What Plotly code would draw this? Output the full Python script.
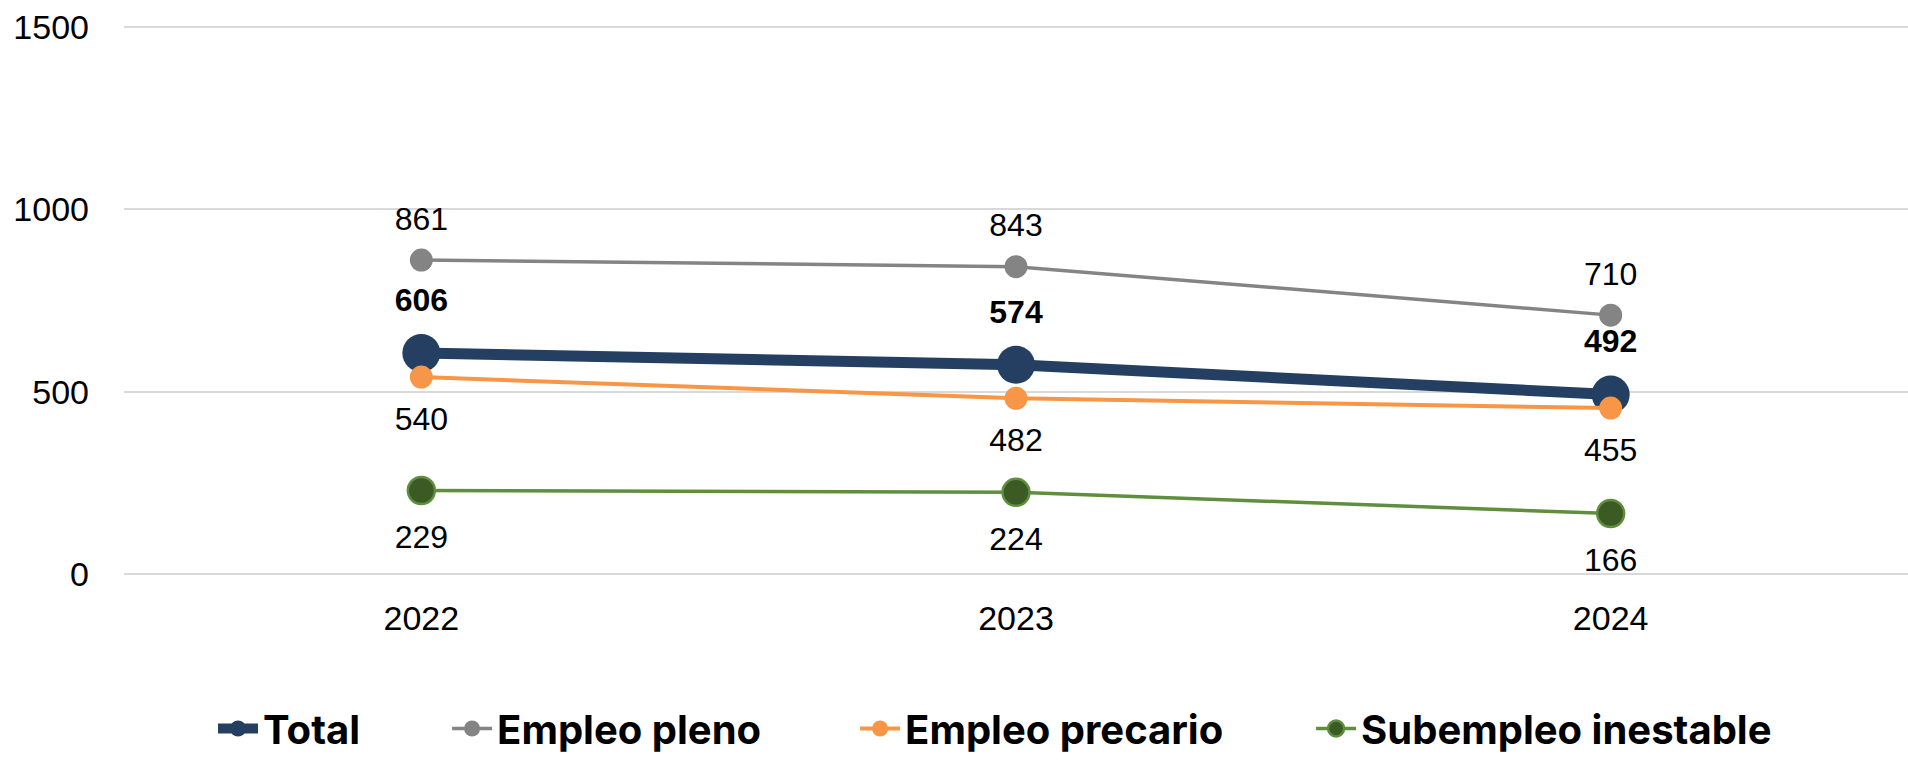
import plotly.graph_objects as go

years = ["2022", "2023", "2024"]
total = [606, 574, 492]
empleo_pleno = [861, 843, 710]
empleo_precario = [540, 482, 455]
subempleo = [229, 224, 166]

series = [
    dict(name="Total", y=total, color="#243F61", lw=11, ms=38, mfill="#243F61", mline="#243F61", mlw=0,
         tpos="top center", tsize=53, bold=True, legx=0.0499),
    dict(name="Empleo pleno", y=empleo_pleno, color="#848484", lw=3.5, ms=23, mfill="#848484", mline="#848484", mlw=0,
         tpos="top center", tsize=34, bold=False, legx=0.1811),
    dict(name="Empleo precario", y=empleo_precario, color="#F79646", lw=4, ms=23, mfill="#F79646", mline="#F79646", mlw=0,
         tpos="bottom center", tsize=45, bold=False, legx=0.4098),
    dict(name="Subempleo inestable", y=subempleo, color="#5E8E3E", lw=3.5, ms=27, mfill="#3B5A24", mline="#5E8E3E", mlw=2.5,
         tpos="bottom center", tsize=52, bold=False, legx=0.6654),
]

fig = go.Figure()
legend_layout = {}
for i, s in enumerate(series):
    lname = "legend" if i == 0 else f"legend{i + 1}"
    fig.add_trace(go.Scatter(
        x=years, y=s["y"], name=s["name"], mode="lines+markers",
        line=dict(color=s["color"], width=s["lw"]),
        marker=dict(size=s["ms"], color=s["mfill"], line=dict(color=s["mline"], width=s["mlw"])),
        legend=lname,
    ))
    legend_layout[lname] = dict(
        orientation="h", x=s["legx"], xanchor="left", y=-0.223, yanchor="top",
        font=dict(family="Inter, Noto Sans", size=40, color="#000000", weight="bold"),
        itemwidth=40, bgcolor="rgba(0,0,0,0)",
    )

for s in series:
    fig.add_trace(go.Scatter(
        x=years, y=s["y"], mode="markers+text", showlegend=False, hoverinfo="skip",
        text=[str(v) for v in s["y"]], textposition=s["tpos"],
        textfont=dict(family="Liberation Sans, Arial", size=32, color="#000000",
                      weight="bold" if s["bold"] else "normal"),
        marker=dict(size=s["tsize"], color="rgba(0,0,0,0)", line=dict(width=0)),
    ))

fig.update_layout(
    width=1908, height=761,
    margin=dict(l=124, r=0, t=26, b=179),
    paper_bgcolor="white", plot_bgcolor="white",
    showlegend=True,
    hovermode=False,
    xaxis=dict(
        type="category", range=[-0.5, 2.5], showgrid=False, showline=False, zeroline=False,
        tickfont=dict(family="Liberation Sans, Arial", size=34, color="#000000"),
        ticklabelstandoff=21,
    ),
    yaxis=dict(
        range=[0, 1503], tickvals=[0, 500, 1000, 1500], showgrid=True, gridcolor="#D9D9D9", gridwidth=1.5,
        zeroline=True, zerolinecolor="#D9D9D9", zerolinewidth=1.5, showline=False,
        tickfont=dict(family="Liberation Sans, Arial", size=34, color="#000000"),
        ticklabelstandoff=34,
    ),
    **legend_layout,
)

fig.write_html(
    "out.html",
    config={"displayModeBar": False},
    post_script="document.documentElement.style.margin='0';document.body.style.margin='0';"
                "document.body.style.overflow='hidden';document.documentElement.style.overflow='hidden';",
)
